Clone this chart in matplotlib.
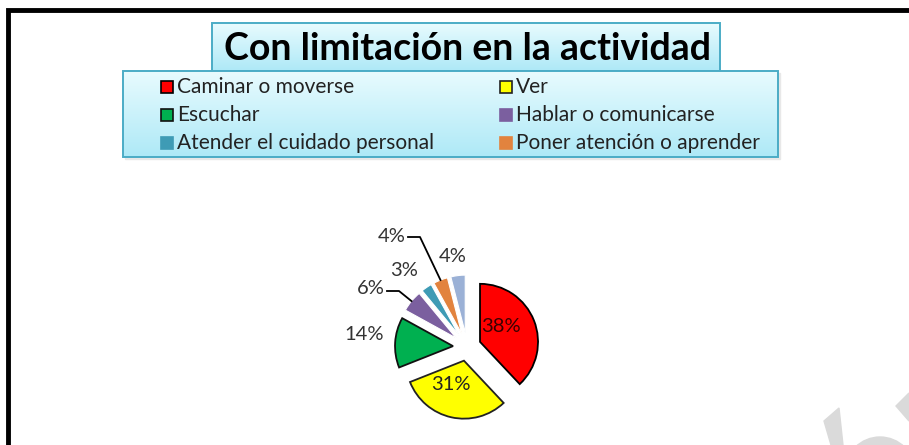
import numpy as np
import matplotlib
matplotlib.use("Agg")
import matplotlib.pyplot as plt
from matplotlib.colors import LinearSegmentedColormap
from matplotlib.patches import Rectangle, Polygon, Circle

plt.rcParams['font.family'] = ['Lato', 'DejaVu Sans']

# datos de la grafica
title = 'Con limitación en la actividad'
categories = ['Caminar o moverse', 'Ver', 'Escuchar', 'Hablar o comunicarse',
              'Atender el cuidado personal', 'Poner atención o aprender', 'Otra']
percent = [38, 31, 14, 6, 3, 4, 4]
colors = ['#ff0000', '#ffff00', '#00b050', '#7b5f9f', '#3e9bb5', '#e2833e', '#9bb1d6']
edges = ['black', '#222222', '#111111', 'white', 'white', 'white', 'white']

W, H = 909, 445
fig = plt.figure(figsize=(W / 100, H / 100), dpi=100)
ax = fig.add_axes([0, 0, 1, 1])


def py(y):
    # convierte y de pixel (desde arriba) a coordenada del eje
    return H - y


box_cmap = LinearSegmentedColormap.from_list('caja', ['#e8fbfe', '#aee9f7'])
grad = np.linspace(0, 1, 100).reshape(-1, 1)


def caja(x0, y0, x1, y1, z):
    ax.imshow(grad, cmap=box_cmap, aspect='auto', origin='upper',
              extent=[x0, x1, py(y1), py(y0)], zorder=z)
    ax.add_patch(Rectangle((x0, py(y1)), x1 - x0, y1 - y0, fill=False,
                           edgecolor='#4bacc6', lw=1.4, zorder=z + 0.1))


# marco negro
ax.plot([8, 8, W + 5], [-5, py(10), py(10)], color='black', lw=3.5,
        solid_joinstyle='miter', zorder=1)

# titulo
caja(212, 23, 720, 71, 2)
ax.text(467, py(49), title, ha='center', va='center', fontsize=27,
        fontweight='bold', color='black', zorder=3)

# leyenda
ax.add_patch(Rectangle((125, py(159)), 655, 86, color='#e8e8e8', zorder=3.5))
caja(123, 71, 778, 157, 4)
col_x = [161, 500]
row_y = [87, 115, 143]
for i, lab in enumerate(categories[:6]):
    x = col_x[i % 2]
    y = row_y[i // 2]
    ec = edges[i] if i < 3 else colors[i]
    ax.add_patch(Rectangle((x, py(y) - 6), 12, 12, facecolor=colors[i],
                           edgecolor=ec, lw=1.2, zorder=5))
    ax.text(x + 16, py(y), lab, ha='left', va='center', fontsize=15,
            color='#222222', zorder=5)

# grafica de pastel
cx, cy, r = 467, py(347), 58
wedges, _ = ax.pie(percent, colors=colors, startangle=90, counterclock=False,
                   explode=[14] * len(percent), center=(cx, cy), radius=r,
                   wedgeprops=dict(lw=1.3))
for w, ec in zip(wedges, edges):
    w.set_edgecolor(ec)
    w.set_zorder(6)
    if ec == 'white':
        w.set_linewidth(0.8)

# posiciones de las etiquetas de porcentaje
label_pos = [(501, 327), (451, 385), (364, 334), (371, 288),
             (404, 270), (392, 237), (453, 256)]
label_col = ['#3a0000', '#222222', '#333333', '#333333', '#333333', '#333333', '#333333']
for p, (lx, ly), c in zip(percent, label_pos, label_col):
    ax.text(lx, py(ly), f'{p}%', ha='center', va='center', fontsize=14.5,
            color=c, zorder=8)

# lineas guia para Hablar (6%) y Poner atencion (4%)
for idx, start in [(3, (387, 291)), (5, (408, 237))]:
    w = wedges[idx]
    a = np.deg2rad((w.theta1 + w.theta2) / 2)
    ex = w.center[0] + r * np.cos(a)
    ey = w.center[1] + r * np.sin(a)
    sx, sy = start[0], py(start[1])
    ax.plot([sx, sx + 12, ex], [sy, sy, ey], color='black', lw=1.3, zorder=7)

# marca de agua gris
ax.add_patch(Polygon([(839, py(408)), (824, py(421)), (831, py(445)), (843, py(445))],
                     color='#dadada', zorder=1))
ax.add_patch(Circle((880, py(472)), 35, color='#dadada', zorder=1))
ax.add_patch(Polygon([(896, py(406)), (909, py(393)), (909, py(421))],
                     color='#dadada', zorder=1))

ax.set_xlim(0, W)
ax.set_ylim(0, H)
ax.axis('off')

fig.savefig('out.png', dpi=100)
